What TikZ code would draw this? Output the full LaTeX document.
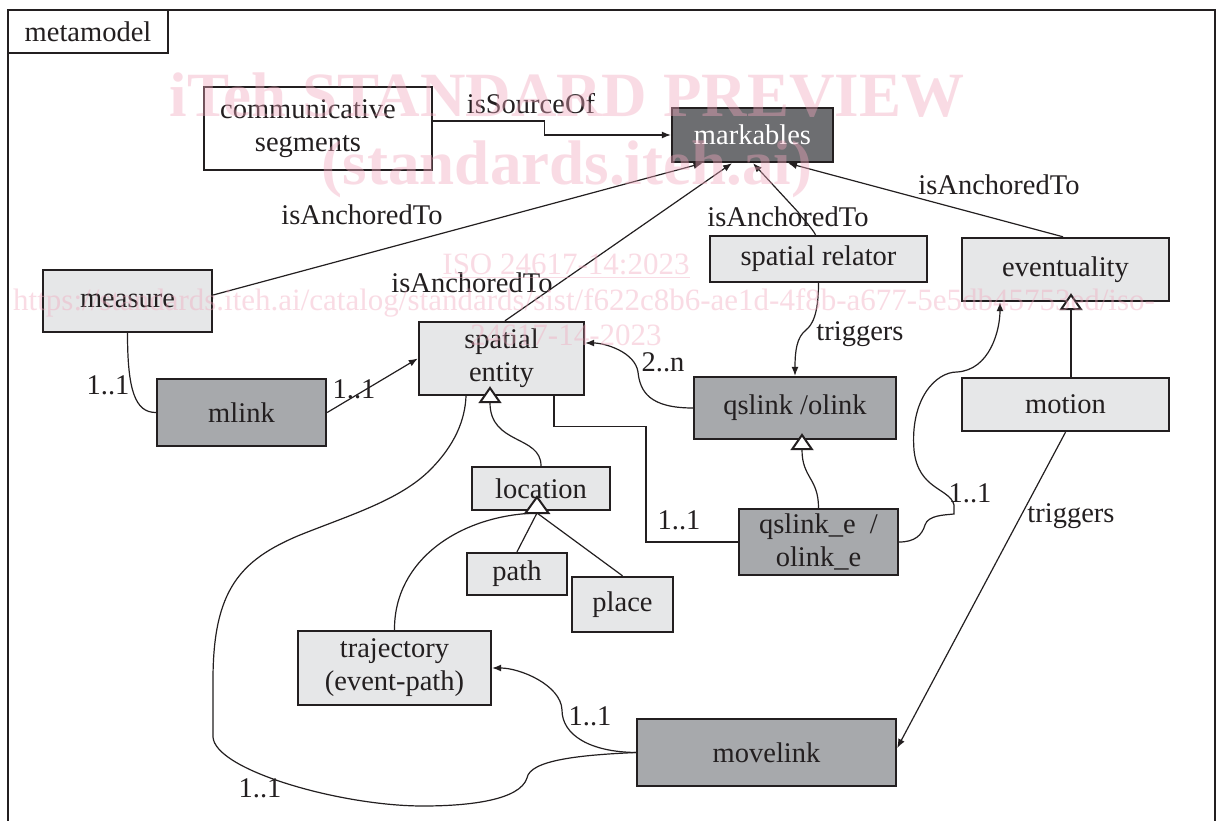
\documentclass[tikz,border=0pt]{standalone}
\usepackage{fontspec}
\setmainfont{Liberation Serif}
\usetikzlibrary{arrows.meta,calc}
\definecolor{lfill}{HTML}{E6E7E8}
\definecolor{dfill}{HTML}{A7A9AC}
\definecolor{mfill}{HTML}{6D6E71}
\definecolor{ink}{HTML}{231F20}
\definecolor{wm}{HTML}{F2A7BD}
\newcommand{\diafont}{\fontsize{28.5}{33}\selectfont}
\begin{document}
\begin{tikzpicture}[x=1pt,y=-1pt,
 box/.style={draw=ink, line width=2.4pt, fill=lfill, inner sep=0pt, align=center, font=\diafont, text=ink},
 darkbox/.style={box, fill=dfill},
 sz/.style 2 args={minimum width=#1pt, minimum height=#2pt},
 conn/.style={draw=ink, line width=1.2pt},
 assoc/.style={conn, -{Latex[length=9pt,width=7pt]}},
 gen/.style={conn, -{Triangle[length=17pt,width=23pt,fill=white,line width=2pt]}},
 lbl/.style={font=\diafont, text=ink, inner sep=0pt},
 wmbig/.style={font=\fontsize{63}{70}\selectfont\bfseries, text=wm, opacity=0.4, inner sep=0pt},
 wmsmall/.style={font=\fontsize{31}{36}\selectfont, text=wm, opacity=0.4, inner sep=0pt}
]
\fill[white] (0,0) rectangle (1219,821);
\useasboundingbox (0,0) rectangle (1219,821);
\clip (0,0) rectangle (1219,821);

% frame
\draw[draw=ink, line width=2.6pt] (8,10) rectangle (1215,840);
\node[box, fill=white, sz={160}{43}] (tab) at (88,31.5) {metamodel};

% nodes
\node[box, fill=white, sz={228}{83}] (cs) at (318,128.5) {communicative\hspace*{20pt}\\segments\hspace*{20pt}};
\node[box, fill=mfill, text=white, sz={161}{54}] (mark) at (752.5,135) {markables};
\node[box, sz={217}{46}] (srel) at (818.5,259) {spatial relator};
\node[box, sz={207}{63}] (event) at (1065.5,269.5) {eventuality};
\node[box, sz={207}{53}] (motion) at (1065.5,404.5) {motion};
\node[box, sz={169}{62}] (measure) at (127.5,301) {measure};
\node[darkbox, sz={169}{67}] (mlink) at (241.5,412.5) {mlink};
\node[box, sz={165}{73}] (sent) at (501.5,358.5) {spatial\\entity};
\node[darkbox, sz={202}{62}] (qslink) at (795,408) {qslink /olink};
\node[box, sz={138}{43}] (loc) at (541,488.5) {location};
\node[box, sz={100}{42}] (path) at (517,574) {path};
\node[box, sz={101}{55}] (place) at (622.5,604.5) {place};
\node[darkbox, sz={159}{66}] (qse) at (818.5,542) {qslink\_e~~/\\olink\_e};
\node[box, sz={193}{74}] (traj) at (394.5,668) {trajectory\\(event-path)};
\node[darkbox, sz={259}{67}] (move) at (766.5,752.5) {movelink};

% connectors
\draw[assoc] ([yshift=7.5pt]cs.east) -- ++(111,0) |- (mark.west);
\node[lbl] (l1) at (531,104) {isSourceOf};

\draw[assoc] ([yshift=6pt]measure.east) -- ([xshift=-50pt]mark.south);
\node[lbl] (l2) at (362,215) {isAnchoredTo};

\draw[assoc] ([xshift=3.5pt]sent.north) -- ([xshift=-20.5pt]mark.south);
\node[lbl] (l3) at (472,283) {isAnchoredTo};

\draw[assoc] ([xshift=-3pt]srel.north) .. controls (812,228) and (803,219) .. (798,212) -- ([xshift=0.5pt]mark.south);
\node[lbl] (l4) at (788,217) {isAnchoredTo};

\draw[assoc] ([xshift=-2.5pt]event.north) -- ([xshift=35.5pt]mark.south);
\node[lbl] (l5) at (999,185) {isAnchoredTo};

\draw[assoc] (srel.south) .. controls (818.5,315) and (812,325) .. (806,330) .. controls (797,337) and (795,350) .. (qslink.north);
\node[lbl] (l6) at (860,334) {triggers};

\draw[gen, line width=2.2pt] ([xshift=5.5pt]motion.north) -- ([xshift=5.5pt,yshift=9pt]event.south);

\draw[conn] (measure.south) .. controls (127.5,390) and (135,412.5) .. (mlink.west);
\node[lbl] (l8) at (108,385) {1..1};

\draw[assoc] (mlink.east) -- (sent.west);
\node[lbl] (l9) at (354,389) {1..1};

\draw[assoc] (qslink.west) .. controls (650,408) and (640,392) .. (638,372) .. controls (635,352) and (605,343) .. ([yshift=15.5pt]sent.east);
\node[lbl] (l10) at (663,362) {2..n};

\draw[gen] (loc.north) .. controls (541,435) and (490,445) .. ([xshift=-11.5pt,yshift=10pt]sent.south);

\coordinate (locgen) at (537,513);
\draw[conn] (path.north) -- (locgen);
\draw[conn] (place.north) -- (locgen);
\draw[conn] (traj.north) .. controls (394,560) and (460,515) .. (locgen);
\draw[draw=ink, line width=2pt, fill=white] (locgen) ++(-11.5,0) -- ++(11.5,-16) -- ++(11.5,16) -- cycle;

\draw[gen] (qse.north) .. controls (818.5,478) and (802,478) .. ([xshift=7pt,yshift=7pt]qslink.south);

\draw[conn] ([xshift=52.5pt]sent.south) -- ++(0,30) -- ++(92,0) |- (qse.west);
\node[lbl] (l15) at (679,520) {1..1};

\draw[assoc] (qse.east) .. controls (915,542) and (922,535) .. (925,525) .. controls (928,515) and (945,515) .. (954,514) -- (954,505) .. controls (950,488) and (918,490) .. (914,450) .. controls (910,400) and (935,372) .. (957,372) .. controls (990,370) and (1000,330) .. ([xshift=-65.5pt]event.south);
\node[lbl] (l16) at (970,493) {1..1};

\draw[assoc] (motion.south) -- ([yshift=4.5pt]move.east);
\node[lbl] (l17) at (1071,516) {triggers};

\draw[assoc] (move.west) .. controls (590,752) and (562,735) .. (562,710) .. controls (561,685) and (520,668) .. (traj.east);
\node[lbl] (l18) at (590,716) {1..1};

\draw[conn] (move.west) .. controls (580,755) and (530,760) .. (527,778) .. controls (520,800) and (470,806) .. (423,806) .. controls (340,806) and (215,770) .. (213,737) -- (213,680) .. controls (213,590) and (240,560) .. (300,535) .. controls (350,515) and (400,500) .. (430,470) .. controls (455,445) and (465,420) .. ([xshift=-35.5pt]sent.south);
\node[lbl] (l19) at (260,788) {1..1};

% watermark
\node[wmbig, anchor=base] (wm1) at (567,117) {iTeh STANDARD PREVIEW};
\node[wmbig, anchor=base] (wm2) at (567,185) {(standards.iteh.ai)};
\node[wmsmall, anchor=base] (wm3) at (566,275) {\underline{ISO 24617-14:2023}};
\node[wmsmall, anchor=base east] (wm4) at (1155,310) {https://standards.iteh.ai/catalog/standards/sist/f622c8b6-ae1d-4f8b-a677-5e5db45753ed/iso-};
\node[wmsmall, anchor=base] (wm5) at (566,345) {24617-14-2023};
\end{tikzpicture}
\end{document}
